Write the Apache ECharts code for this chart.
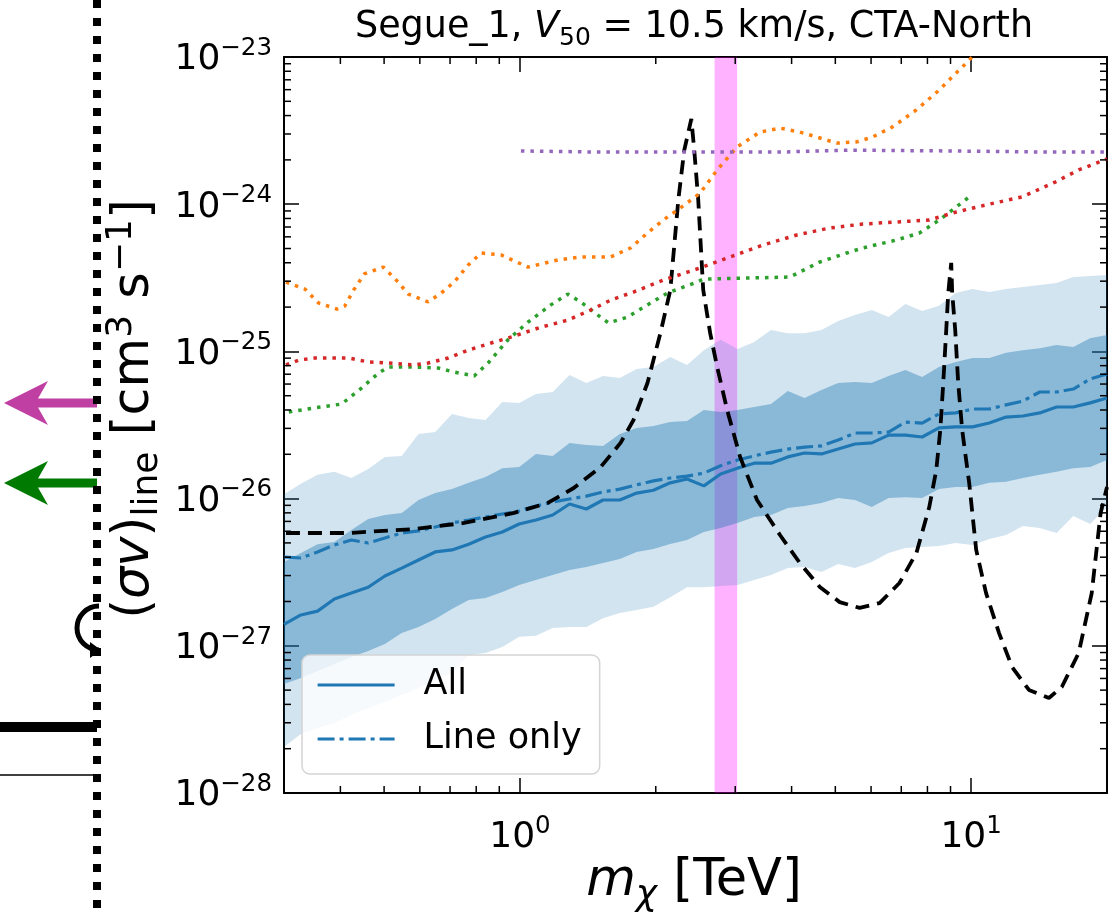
<!DOCTYPE html>
<html>
<head>
<meta charset="utf-8">
<script src="https://cdn.jsdelivr.net/npm/echarts@6/dist/echarts.min.js"></script>
<style>
  html, body { margin: 0; padding: 0; background: #fff; }
  #main { width: 1113px; height: 917px; }
</style>
</head>
<body>
<div id="main"></div>
<script>
// mass grid (TeV) shared by the expected-limit curves and bands
const mass = [0.300, 0.327, 0.356, 0.388, 0.423, 0.461, 0.502, 0.547, 0.596, 0.649,
  0.707, 0.770, 0.839, 0.914, 0.996, 1.085, 1.182, 1.288, 1.403, 1.528,
  1.665, 1.814, 1.976, 2.153, 2.346, 2.556, 2.785, 3.034, 3.305, 3.601,
  3.923, 4.274, 4.657, 5.073, 5.527, 6.022, 6.561, 7.148, 7.787, 8.484,
  9.243, 10.07, 10.97, 11.95, 13.02, 14.19, 15.46, 16.84, 18.35, 20.0];

// median "All" (cm^3 s^-1)
const allMedian = [1.40e-27, 1.62e-27, 1.72e-27, 2.08e-27, 2.28e-27, 2.50e-27, 2.98e-27, 3.37e-27, 3.83e-27, 4.34e-27,
  4.48e-27, 4.90e-27, 5.48e-27, 5.93e-27, 6.72e-27, 7.15e-27, 7.74e-27, 9.19e-27, 8.50e-27, 9.78e-27,
  9.78e-27, 1.09e-26, 1.14e-26, 1.28e-26, 1.36e-26, 1.22e-26, 1.47e-26, 1.61e-26, 1.74e-26, 1.74e-26,
  1.92e-26, 2.04e-26, 2.01e-26, 2.17e-26, 2.35e-26, 2.39e-26, 2.70e-26, 2.70e-26, 2.62e-26, 3.02e-26,
  3.07e-26, 3.07e-26, 3.26e-26, 3.58e-26, 3.64e-26, 3.82e-26, 4.19e-26, 4.19e-26, 4.47e-26, 4.83e-26];

// median "Line only"
const lineOnlyMedian = [4.01e-27, 3.95e-27, 4.34e-27, 4.84e-27, 5.23e-27, 4.99e-27, 5.40e-27, 5.84e-27, 6.03e-27, 6.41e-27,
  6.83e-27, 7.15e-27, 7.50e-27, 7.86e-27, 8.23e-27, 8.91e-27, 9.48e-27, 9.94e-27, 1.04e-26, 1.11e-26,
  1.16e-26, 1.24e-26, 1.32e-26, 1.38e-26, 1.42e-26, 1.49e-26, 1.67e-26, 1.83e-26, 1.95e-26, 2.07e-26,
  2.17e-26, 2.24e-26, 2.28e-26, 2.50e-26, 2.79e-26, 2.79e-26, 2.83e-26, 3.31e-26, 3.26e-26, 3.76e-26,
  3.82e-26, 4.06e-26, 4.06e-26, 4.33e-26, 4.60e-26, 5.30e-26, 5.30e-26, 5.55e-26, 6.49e-26, 7.02e-26];

// 68% containment band
const band1Lo = [5.50e-28, 6.04e-28, 6.74e-28, 7.52e-28, 8.39e-28, 9.22e-28, 1.03e-27, 1.22e-27, 1.34e-27, 1.52e-27,
  1.78e-27, 2.05e-27, 2.11e-27, 2.32e-27, 2.59e-27, 2.80e-27, 3.03e-27, 3.27e-27, 3.43e-27, 3.65e-27,
  3.89e-27, 4.34e-27, 4.55e-27, 4.91e-27, 5.23e-27, 5.93e-27, 6.31e-27, 6.83e-27, 7.50e-27, 7.74e-27,
  8.63e-27, 8.91e-27, 9.34e-27, 1.01e-26, 9.78e-27, 8.77e-27, 1.01e-26, 1.02e-26, 1.01e-26, 1.16e-26,
  1.20e-26, 1.20e-26, 1.28e-26, 1.30e-26, 1.38e-26, 1.45e-26, 1.52e-26, 1.61e-26, 1.64e-26, 1.83e-26];
const band1Hi = [3.71e-27, 4.27e-27, 4.90e-27, 5.07e-27, 6.12e-27, 7.27e-27, 7.74e-27, 7.98e-27, 9.78e-27, 1.09e-26,
  1.16e-26, 1.28e-26, 1.40e-26, 1.61e-26, 1.64e-26, 2.01e-26, 1.95e-26, 2.39e-26, 2.31e-26, 2.28e-26,
  2.75e-26, 3.02e-26, 3.11e-26, 3.31e-26, 3.37e-26, 4.00e-26, 3.88e-26, 4.00e-26, 4.19e-26, 4.39e-26,
  5.38e-26, 4.83e-26, 5.47e-26, 6.10e-26, 6.20e-26, 6.10e-26, 6.80e-26, 7.48e-26, 6.70e-26, 7.83e-26,
  8.46e-26, 9.02e-26, 9.02e-26, 9.78e-26, 1.02e-25, 1.05e-25, 1.105e-25, 1.07e-25, 1.23e-25, 1.29e-25];

// 95% containment band
const band2Lo = [2.05e-28, 2.52e-28, 2.76e-28, 2.99e-28, 3.39e-28, 3.78e-28, 4.15e-28, 4.63e-28, 5.17e-28, 5.85e-28,
  6.54e-28, 8.66e-28, 8.93e-28, 9.81e-28, 1.15e-27, 1.17e-27, 1.32e-27, 1.34e-27, 1.34e-27, 1.54e-27,
  1.67e-27, 1.75e-27, 1.84e-27, 2.14e-27, 2.50e-27, 2.50e-27, 2.55e-27, 2.59e-27, 2.80e-27, 3.03e-27,
  3.38e-27, 3.43e-27, 3.17e-27, 3.59e-27, 3.38e-27, 3.71e-27, 4.27e-27, 4.62e-27, 4.69e-27, 4.76e-27,
  4.99e-27, 4.84e-27, 5.32e-27, 5.66e-27, 6.51e-27, 6.31e-27, 5.84e-27, 7.62e-27, 6.72e-27, 8.77e-27];
const band2Hi = [1.07e-26, 1.26e-26, 1.45e-26, 1.52e-26, 1.38e-26, 1.59e-26, 1.92e-26, 1.95e-26, 2.75e-26, 2.83e-26,
  3.76e-26, 3.53e-26, 3.42e-26, 4.53e-26, 4.46e-26, 5.14e-26, 5.30e-26, 6.91e-26, 6.10e-26, 6.80e-26,
  6.59e-26, 7.59e-26, 7.83e-26, 9.17e-26, 8.09e-26, 1.02e-25, 1.20e-25, 1.04e-25, 1.16e-25, 1.40e-25,
  1.33e-25, 1.33e-25, 1.40e-25, 1.61e-25, 1.77e-25, 1.91e-25, 1.71e-25, 2.10e-25, 1.88e-25, 2.04e-25,
  2.49e-25, 2.65e-25, 2.53e-25, 2.65e-25, 2.74e-25, 2.83e-25, 2.92e-25, 3.20e-25, 3.25e-25, 3.30e-25];

// theory curve with resonances (black dashed)
const resMass = [0.303, 0.417, 0.583, 0.752, 0.970, 1.153, 1.316, 1.510, 1.671, 1.785, 1.917, 2.048, 2.154, 2.244, 2.313,
  2.398, 2.434, 2.484, 2.548, 2.640, 2.736, 2.879, 3.075, 3.353, 3.770, 4.172, 4.619, 5.112, 5.659, 6.265,
  6.935, 7.561, 8.076, 8.369, 8.542, 8.673, 8.806, 8.896, 9.032, 9.078, 9.218, 9.360, 9.552, 9.899, 10.26,
  10.79, 11.53, 12.32, 13.43, 14.87, 15.88, 17.31, 18.50, 19.36, 20.0];
const resSigma = [5.84e-27, 5.84e-27, 6.21e-27, 6.83e-27, 7.99e-27, 9.34e-27, 1.18e-26, 1.64e-26, 2.39e-26, 3.42e-26,
  6.10e-26, 1.33e-25, 2.61e-25, 1.07e-24, 2.33e-24, 3.79e-24, 2.33e-24, 1.07e-24, 2.61e-25, 1.33e-25,
  7.83e-26, 4.00e-26, 1.92e-26, 9.78e-27, 5.66e-27, 3.65e-27, 2.51e-27, 1.98e-27, 1.81e-27, 1.95e-27,
  2.67e-27, 4.27e-27, 8.77e-27, 1.56e-26, 2.92e-26, 6.10e-26, 1.40e-25, 2.49e-25, 3.99e-25, 2.49e-25,
  1.40e-25, 6.10e-26, 2.92e-26, 1.28e-26, 4.48e-27, 2.28e-27, 1.22e-27, 7.18e-28, 5.01e-28, 4.42e-28,
  5.25e-28, 8.94e-28, 2.28e-27, 7.99e-27, 1.20e-26];

// other published limits (dotted)
const orangeMass = [0.303, 0.334, 0.358, 0.393, 0.409, 0.428, 0.452, 0.498, 0.532, 0.566, 0.626, 0.669, 0.715, 0.768,
  0.820, 0.908, 1.042, 1.213, 1.363, 1.588, 1.758, 1.917, 2.079, 2.267, 2.509, 2.736, 3.029, 3.404, 3.770,
  4.172, 4.549, 5.035, 5.574, 6.046, 6.693, 7.561, 8.500, 9.266, 9.750, 10.42];
const orangeSigma = [2.96e-25, 2.65e-25, 2.13e-25, 1.94e-25, 2.03e-25, 2.61e-25, 3.36e-25, 3.74e-25, 3.05e-25, 2.45e-25,
  2.17e-25, 2.49e-25, 2.96e-25, 3.86e-25, 4.66e-25, 4.52e-25, 3.74e-25, 4.18e-25, 4.38e-25, 4.38e-25,
  5.04e-25, 6.37e-25, 7.81e-25, 9.42e-25, 1.19e-24, 1.71e-24, 2.45e-24, 3.09e-24, 3.29e-24, 3.09e-24,
  2.86e-24, 2.60e-24, 2.65e-24, 2.86e-24, 3.35e-24, 4.37e-24, 5.97e-24, 7.79e-24, 9.10e-24, 1.12e-23];

const greenMass = [0.3075, 0.351, 0.4025, 0.4457, 0.486, 0.511, 0.583, 0.659, 0.715, 0.792, 0.850, 0.941, 1.042,
  1.171, 1.276, 1.363, 1.486, 1.572, 1.731, 1.917, 2.122, 2.471, 2.548, 3.187, 3.965, 4.619, 5.297, 5.745,
  6.830, 7.678, 8.500, 9.266, 9.90];
const greenSigma = [3.88e-26, 4.13e-26, 4.39e-26, 5.64e-26, 7.13e-26, 7.83e-26, 7.83e-26, 7.71e-26, 7.24e-26, 6.81e-26,
  8.34e-26, 1.20e-25, 1.58e-25, 2.07e-25, 2.45e-25, 2.17e-25, 1.77e-25, 1.56e-25, 1.71e-25, 2.07e-25,
  2.49e-25, 2.96e-25, 3.10e-25, 3.15e-25, 3.20e-25, 4.05e-25, 4.66e-25, 5.04e-25, 5.71e-25, 6.37e-25,
  7.81e-25, 9.57e-25, 1.12e-24];

const redMass = [0.303, 0.324, 0.351, 0.417, 0.462, 0.511, 0.583, 0.626, 0.694, 0.768, 0.863, 0.970, 1.113, 1.276,
  1.435, 1.588, 1.785, 2.079, 2.509, 2.923, 3.456, 4.109, 4.859, 5.745, 6.830, 8.076, 9.266, 10.96, 12.96,
  15.40, 17.31, 20.0];
const redSigma = [8.09e-26, 8.74e-26, 9.02e-26, 9.02e-26, 8.47e-26, 8.34e-26, 8.09e-26, 8.34e-26, 9.02e-26, 1.02e-25,
  1.14e-25, 1.27e-25, 1.46e-25, 1.63e-25, 1.91e-25, 2.23e-25, 2.53e-25, 3.05e-25, 3.69e-25, 4.38e-25,
  5.28e-25, 6.18e-25, 6.89e-25, 7.33e-25, 7.57e-25, 7.81e-25, 8.85e-25, 1.00e-24, 1.12e-24, 1.42e-24,
  1.71e-24, 2.03e-24];

const purpleMass = [1.005, 1.51, 2.51, 3.77, 5.38, 8.94, 14.87, 20.0];
const purpleSigma = [2.30e-24, 2.26e-24, 2.26e-24, 2.26e-24, 2.33e-24, 2.30e-24, 2.26e-24, 2.26e-24];

// highlighted mass window (TeV)
const highlightBand = [2.7, 3.03];

// y range in decades of cm^3 s^-1
const yDecadeMin = -28, yDecadeMax = -23;

const FONT = 'DejaVu Sans';
const BLUE = '#1f77b4';

// y is drawn on a value axis in log10 units (log axis rounds 1e-28 to zero)
const lg = Math.log10;
const pts = (xs, ys) => xs.map((x, i) => [x, lg(ys[i])]);

function expLabel(r) {
  return '{b|10}{s|' + (r < 0 ? '\u2212' + (-r) : r) + '}';
}
function xLabel(v) {
  const e = lg(v), r = Math.round(e);
  return Math.abs(e - r) > 1e-6 ? '' : expLabel(r);
}
function yLabel(v) {
  const r = Math.round(v);
  return Math.abs(v - r) > 1e-6 ? '' : expLabel(r);
}

const labelRich = {
  b: { fontFamily: FONT, fontSize: 36, lineHeight: 42, verticalAlign: 'bottom', color: '#000' },
  s: { fontFamily: FONT, fontSize: 24.5, lineHeight: 23, verticalAlign: 'top', color: '#000' }
};

function bandRenderer(lo, hi, fill) {
  return function (params, api) {
    if (params.dataIndex !== 0) return null;
    const upper = mass.map((m, i) => api.coord([m, lg(hi[i])]));
    const lower = mass.map((m, i) => api.coord([m, lg(lo[i])])).reverse();
    return { type: 'polygon', shape: { points: upper.concat(lower) }, style: { fill: fill } };
  };
}

// minor ticks at 2..9 x 10^n, inside on all four spines
const xMinor = [], yMinor = [];
for (let d = -1; d <= 1; d++) for (let k = 2; k <= 9; k++) {
  const v = k * Math.pow(10, d);
  if (v > 0.3 && v < 20) xMinor.push(v);
}
for (let d = yDecadeMin; d < yDecadeMax; d++) for (let k = 2; k <= 9; k++) yMinor.push(d + lg(k));

function tickRenderer(params, api) {
  if (params.dataIndex !== 0) return null;
  const cs = params.coordSys;
  const left = cs.x, right = cs.x + cs.width, top = cs.y, bottom = cs.y + cs.height;
  const kids = [];
  const seg = (x1, y1, x2, y2) => kids.push({
    type: 'line', shape: { x1: x1, y1: y1, x2: x2, y2: y2 }, style: { stroke: '#000', lineWidth: 1.5 }
  });
  xMinor.forEach(v => {
    const x = api.coord([v, -25])[0];
    seg(x, bottom, x, bottom - 7);
    seg(x, top, x, top + 7);
  });
  yMinor.forEach(v => {
    const y = api.coord([1, v])[1];
    seg(left, y, left + 7, y);
    seg(right, y, right - 7, y);
  });
  return { type: 'group', children: kids };
}

const axisLineStyle = { show: true, onZero: false, lineStyle: { color: '#000', width: 2 } };
const majorTick = { show: true, inside: true, length: 15, lineStyle: { color: '#000', width: 1.5 } };

function xAxisDef(pos, showLabel) {
  return {
    type: 'log', logBase: 10, position: pos, min: 0.3, max: 20,
    axisLine: axisLineStyle, axisTick: majorTick, splitLine: { show: false },
    axisLabel: { show: showLabel, margin: 21, formatter: xLabel, rich: labelRich }
  };
}
function yAxisDef(pos, showLabel) {
  return {
    type: 'value', position: pos, min: yDecadeMin, max: yDecadeMax, interval: 1,
    axisLine: axisLineStyle, axisTick: majorTick, splitLine: { show: false },
    axisLabel: { show: showLabel, margin: 12, formatter: yLabel, rich: labelRich }
  };
}

function dotted(name, xs, ys, color) {
  return {
    name: name, type: 'line', data: pts(xs, ys), symbol: 'none', z: 5, clip: true,
    lineStyle: { color: color, width: 3.5, type: [3.5, 6] }
  };
}

const chart = echarts.init(document.getElementById('main'), null, { renderer: 'canvas' });

chart.setOption({
  animation: false,
  backgroundColor: '#fff',
  grid: { left: 284, top: 57, width: 823, height: 736, containLabel: false },
  xAxis: [xAxisDef('bottom', true), xAxisDef('top', false)],
  yAxis: [yAxisDef('left', true), yAxisDef('right', false)],
  legend: {
    data: ['All', 'Line only'],
    orient: 'vertical',
    left: 302, top: 655,
    itemWidth: 77, itemHeight: 20, itemGap: 12,
    padding: [9, 18, 14, 14],
    backgroundColor: 'rgba(255,255,255,0.8)',
    borderColor: '#d4d4d4', borderWidth: 1.5, borderRadius: 8,
    selectedMode: false,
    itemStyle: { opacity: 0 },
    lineStyle: { width: 3.2 },
    textStyle: { fontFamily: FONT, fontSize: 35, lineHeight: 42, color: '#000', padding: [0, 0, 0, 24] }
  },
  series: [
    { type: 'custom', name: 'band95', z: 1, silent: true,
      renderItem: bandRenderer(band2Lo, band2Hi, 'rgba(31,119,180,0.2)'),
      data: mass.map((m, i) => [m, lg(band2Lo[i]), lg(band2Hi[i])]), encode: { x: 0, y: [1, 2] } },
    { type: 'custom', name: 'band68', z: 1, silent: true,
      renderItem: bandRenderer(band1Lo, band1Hi, 'rgba(31,119,180,0.4)'),
      data: mass.map((m, i) => [m, lg(band1Lo[i]), lg(band1Hi[i])]), encode: { x: 0, y: [1, 2] } },
    { type: 'line', name: 'window', z: 2, data: [], symbol: 'none', silent: true,
      markArea: { silent: true, itemStyle: { color: 'rgba(255,0,255,0.3)' },
        data: [[{ xAxis: highlightBand[0] }, { xAxis: highlightBand[1] }]] } },
    { name: 'All', type: 'line', data: pts(mass, allMedian), symbol: 'none', z: 3,
      color: BLUE, lineStyle: { color: BLUE, width: 3.2 } },
    { name: 'Line only', type: 'line', data: pts(mass, lineOnlyMedian), symbol: 'none', z: 3,
      color: BLUE, lineStyle: { color: BLUE, width: 3.2, type: [17, 5, 4, 5] } },
    { name: 'theory', type: 'line', data: pts(resMass, resSigma), symbol: 'none', z: 4, clip: true,
      lineStyle: { color: '#000', width: 3.8, type: [14, 8] } },
    dotted('orange', orangeMass, orangeSigma, '#ff7f0e'),
    dotted('green', greenMass, greenSigma, '#2ca02c'),
    dotted('red', redMass, redSigma, '#d62728'),
    dotted('purple', purpleMass, purpleSigma, '#9467bd'),
    { type: 'custom', name: 'minorTicks', z: 6, silent: true, renderItem: tickRenderer, data: [[1, -25]] }
  ],
  graphic: [
    { type: 'text', x: 694, y: 30, silent: true, style: {
      text: '{n|Segue_1, }{i|V}{sub|50}{n| = 10.5 km/s, CTA-North}',
      align: 'center', verticalAlign: 'middle',
      rich: {
        n: { fontFamily: FONT, fontSize: 36.5, lineHeight: 42, verticalAlign: 'top', color: '#000' },
        i: { fontFamily: FONT, fontSize: 36.5, lineHeight: 42, verticalAlign: 'top', fontStyle: 'italic', color: '#000' },
        sub: { fontFamily: FONT, fontSize: 25, lineHeight: 24, verticalAlign: 'bottom', color: '#000' }
      } } },
    { type: 'text', x: 694, y: 885, silent: true, style: {
      text: '{i|m}{sub|\u03c7}{n| [TeV]}',
      align: 'center', verticalAlign: 'middle',
      rich: {
        n: { fontFamily: FONT, fontSize: 51, lineHeight: 58, verticalAlign: 'top', color: '#000' },
        i: { fontFamily: FONT, fontSize: 51, lineHeight: 58, verticalAlign: 'top', fontStyle: 'italic', color: '#000' },
        sub: { fontFamily: FONT, fontSize: 36, lineHeight: 34, verticalAlign: 'bottom', fontStyle: 'italic', color: '#000' }
      } } },
    { type: 'text', x: 135, y: 409, rotation: Math.PI / 2, silent: true, style: {
      text: '{n|(}{i|\u03c3v}{n|)}{sub|line}{n| [cm}{sup|3}{n| s}{sup|\u22121}{n|]}',
      align: 'center', verticalAlign: 'middle',
      rich: {
        n: { fontFamily: FONT, fontSize: 51, lineHeight: 62, verticalAlign: 'middle', color: '#000' },
        i: { fontFamily: FONT, fontSize: 51, lineHeight: 62, verticalAlign: 'middle', fontStyle: 'italic', color: '#000' },
        sub: { fontFamily: FONT, fontSize: 36, lineHeight: 35, verticalAlign: 'bottom', color: '#000' },
        sup: { fontFamily: FONT, fontSize: 36, lineHeight: 35, verticalAlign: 'top', color: '#000' }
      } } },
    // pieces of the neighbouring panel at the left edge
    { type: 'polygon', silent: true, shape: { points: [[4, 403], [48, 381], [38, 398.5], [97, 398.5], [97, 407.5], [38, 407.5], [48, 425]] },
      style: { fill: '#bf3fa3' } },
    { type: 'polygon', silent: true, shape: { points: [[4, 483], [48, 461], [38, 478.5], [97, 478.5], [97, 487.5], [38, 487.5], [48, 505]] },
      style: { fill: '#007a00' } },
    { type: 'arc', silent: true, shape: { cx: 99, cy: 628, r: 22, startAngle: Math.PI / 2, endAngle: Math.PI * 1.5, clockwise: true },
      style: { stroke: '#000', lineWidth: 5, fill: null } },
    { type: 'polygon', silent: true, shape: { points: [[90, 642], [101, 650], [90, 658]] }, style: { fill: '#000' } },
    { type: 'rect', silent: true, shape: { x: 0, y: 722, width: 97, height: 10 }, style: { fill: '#000' } },
    { type: 'line', silent: true, shape: { x1: 0, y1: 775, x2: 97, y2: 775 }, style: { stroke: '#000', lineWidth: 1.5 } },
    { type: 'line', silent: true, shape: { x1: 97, y1: 0, x2: 97, y2: 917 },
      style: { stroke: '#000', lineWidth: 8, lineDash: [8, 10] } }
  ]
});
</script>
</body>
</html>
